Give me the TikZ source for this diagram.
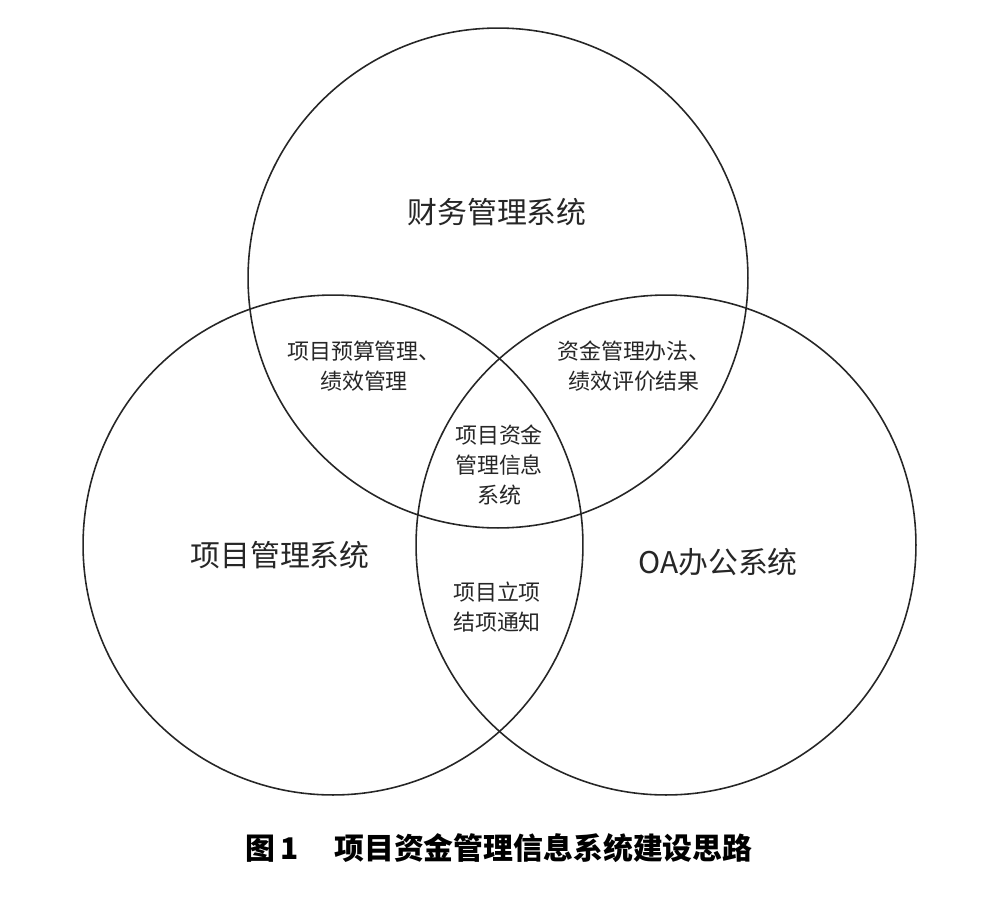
\documentclass[tikz,border=0pt]{standalone}
\usepackage{fontspec}
\newfontfamily\cjk{Noto Sans CJK SC}
\usetikzlibrary{positioning}

\tikzset{
  syscircle/.style={circle, draw=black!85, line width=0.9pt, minimum size=10cm, inner sep=0pt},
  sysname/.style={font=\cjk\fontsize{17pt}{20pt}\selectfont, text=black!85},
  overlap/.style={font=\cjk\fontsize{12.5pt}{17pt}\selectfont, text=black!85, align=center},
}

\begin{document}
\begin{tikzpicture}[x=0.02cm, y=-0.02cm]
\useasboundingbox (0,0) rectangle (997,896);

% Three systems
\node[syscircle] (fin) at (498,278) {};
\node[syscircle] (proj) at (333,545) {};
\node[syscircle] (oa) at (666,545) {};

% System names
\node[sysname] (finname) at (497,212) {财务管理系统};
\node[sysname] (projname) at (280,555) {项目管理系统};
\node[sysname] (oaname) at (718,562) {OA办公系统};

% Overlaps
\node[overlap] (finproj) at (364,366) {项目预算管理、\\绩效管理};
\node[overlap] (finoa) at (634,366) {资金管理办法、\\绩效评价结果};
\node[overlap] (all) at (499,465) {项目资金\\管理信息\\系统};
\node[overlap] (projoa) at (497,607) {项目立项\\结项通知};

% Caption
\node[font=\cjk\bfseries\fontsize{17pt}{20pt}\selectfont] (caption) at (499,848) {图\,1\hspace{1.2em}项目资金管理信息系统建设思路};

\end{tikzpicture}
\end{document}
